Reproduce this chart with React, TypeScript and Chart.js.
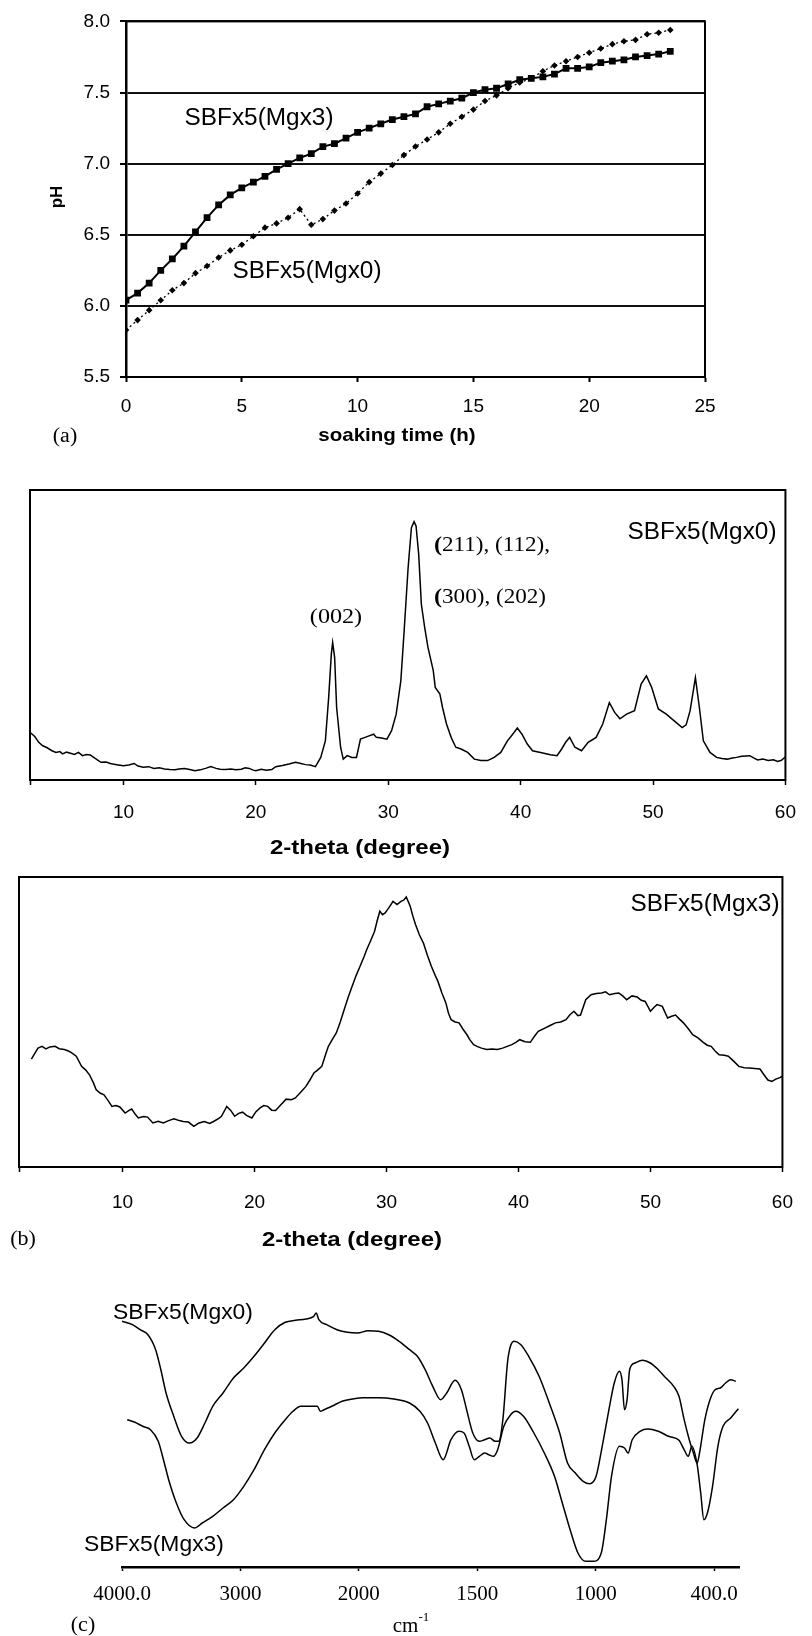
import React, { useEffect, useRef } from 'react';
import { Chart, registerables } from 'chart.js';

Chart.register(...registerables);

// ---------- (a) pH vs soaking time ----------
const soakHours = [0, 0.5, 1, 1.5, 2, 2.5, 3, 3.5, 4, 4.5, 5, 5.5, 6, 6.5, 7, 7.5, 8, 8.5, 9, 9.5, 10, 10.5, 11, 11.5, 12, 12.5, 13, 13.5, 14, 14.5, 15, 15.5, 16, 16.5, 17, 17.5, 18, 18.5, 19, 19.5, 20, 20.5, 21, 21.5, 22, 22.5, 23, 23.5];
const phMgx3 = [6.04, 6.09, 6.16, 6.25, 6.33, 6.42, 6.52, 6.62, 6.71, 6.78, 6.83, 6.87, 6.91, 6.96, 7.0, 7.04, 7.07, 7.12, 7.14, 7.18, 7.22, 7.25, 7.28, 7.31, 7.33, 7.35, 7.4, 7.42, 7.44, 7.46, 7.5, 7.52, 7.53, 7.56, 7.59, 7.6, 7.61, 7.63, 7.67, 7.67, 7.68, 7.71, 7.72, 7.73, 7.75, 7.76, 7.77, 7.79];
const phMgx0 = [5.83, 5.9, 5.97, 6.04, 6.11, 6.16, 6.23, 6.28, 6.34, 6.39, 6.43, 6.49, 6.55, 6.58, 6.62, 6.68, 6.57, 6.61, 6.67, 6.72, 6.79, 6.87, 6.93, 6.99, 7.06, 7.12, 7.17, 7.22, 7.28, 7.33, 7.38, 7.44, 7.48, 7.53, 7.57, 7.6, 7.65, 7.69, 7.72, 7.75, 7.78, 7.81, 7.84, 7.86, 7.87, 7.91, 7.92, 7.94];

// ---------- (b) XRD patterns ----------
const xrdTicks = [10, 20, 30, 40, 50, 60];
const xrdMgx0Theta = [3.0, 3.3, 3.6, 3.9, 4.2, 4.6, 4.9, 5.2, 5.4, 5.7, 6.0, 6.3, 6.6, 6.9, 7.2, 7.5, 7.7, 8.0, 8.3, 8.7, 9.0, 9.2, 9.6, 10.0, 10.4, 10.8, 11.1, 11.5, 11.9, 12.3, 12.7, 13.1, 13.5, 13.9, 14.2, 14.6, 15.0, 15.4, 15.8, 16.2, 16.6, 17.0, 17.3, 17.7, 18.1, 18.5, 18.9, 19.2, 19.5, 19.8, 20.0, 20.4, 20.8, 21.2, 21.5, 22.0, 22.5, 23.0, 23.4, 23.75, 24.1, 24.5, 24.9, 25.25, 25.5, 25.7, 25.8, 25.95, 26.1, 26.4, 26.6, 26.9, 27.25, 27.6, 27.9, 28.25, 28.6, 28.9, 29.1, 29.5, 29.9, 30.25, 30.6, 30.95, 31.2, 31.5, 31.75, 31.95, 32.1, 32.3, 32.5, 32.75, 33.0, 33.4, 33.55, 33.9, 34.1, 34.4, 34.75, 35.1, 35.5, 36.0, 36.5, 37.0, 37.5, 38.0, 38.5, 39.0, 39.4, 39.75, 40.1, 40.5, 40.9, 41.5, 42.25, 42.75, 43.1, 43.4, 43.7, 44.1, 44.6, 45.1, 45.7, 46.2, 46.7, 47.1, 47.5, 48.0, 48.6, 49.1, 49.5, 49.9, 50.4, 51.0, 51.6, 52.2, 52.5, 52.8, 53.2, 53.5, 53.8, 54.3, 54.8, 55.2, 55.6, 56.0, 56.3, 56.7, 57.3, 57.6, 57.9, 58.3, 58.7, 59.1, 59.4, 59.7, 60.0];
const xrdMgx0Int = [162, 150, 130, 118, 112, 101, 95, 98, 90, 96, 92, 88, 95, 84, 88, 86, 80, 70, 61, 62, 57, 55, 52, 49, 52, 57, 48, 44, 46, 40, 42, 38, 36, 35, 38, 40, 36, 32, 35, 40, 46, 40, 37, 36, 38, 35, 37, 42, 40, 34, 32, 37, 34, 36, 46, 50, 55, 61, 57, 53, 52, 46, 78, 135, 285, 434, 474, 423, 250, 113, 72, 84, 78, 78, 141, 147, 153, 158, 147, 145, 141, 170, 227, 342, 514, 732, 870, 891, 876, 778, 606, 526, 457, 377, 319, 296, 250, 193, 147, 113, 107, 95, 72, 67, 67, 78, 95, 135, 158, 179, 158, 124, 101, 95, 87, 84, 107, 130, 147, 113, 101, 130, 147, 193, 267, 233, 211, 227, 239, 331, 359, 319, 245, 227, 204, 181, 190, 239, 353, 250, 135, 95, 78, 74, 72, 76, 78, 82, 84, 76, 69, 72, 67, 70, 64, 68, 80];
const xrdMgx3Theta = [3.1, 3.4, 3.6, 3.9, 4.2, 4.5, 4.9, 5.2, 5.6, 5.9, 6.1, 6.5, 6.9, 7.2, 7.5, 7.8, 8.0, 8.3, 8.6, 8.9, 9.2, 9.5, 9.8, 10.2, 10.5, 10.7, 11.0, 11.2, 11.6, 11.9, 12.3, 12.7, 13.1, 13.5, 13.9, 14.3, 14.6, 15.0, 15.4, 15.8, 16.2, 16.6, 16.9, 17.3, 17.5, 17.9, 18.2, 18.5, 18.8, 19.1, 19.4, 19.8, 20.1, 20.4, 20.7, 21.0, 21.3, 21.6, 22.0, 22.4, 22.8, 23.1, 23.5, 23.9, 24.2, 24.5, 24.8, 25.1, 25.4, 25.6, 25.9, 26.2, 26.5, 26.8, 27.1, 27.4, 27.7, 28.0, 28.3, 28.5, 28.8, 29.1, 29.3, 29.5, 29.7, 29.9, 30.2, 30.5, 30.8, 31.1, 31.3, 31.5, 31.8, 32.0, 32.2, 32.5, 32.8, 33.1, 33.4, 33.7, 33.9, 34.2, 34.5, 34.7, 34.9, 35.2, 35.5, 35.8, 36.1, 36.3, 36.6, 36.9, 37.2, 37.6, 38.0, 38.4, 38.8, 39.1, 39.5, 39.8, 40.1, 40.5, 40.9, 41.2, 41.5, 42.0, 42.4, 42.8, 43.2, 43.6, 43.9, 44.2, 44.5, 44.7, 45.1, 45.5, 45.9, 46.3, 46.6, 46.9, 47.3, 47.6, 47.9, 48.2, 48.6, 49.0, 49.3, 49.6, 50.0, 50.3, 50.5, 50.9, 51.3, 51.6, 51.9, 52.2, 52.5, 52.9, 53.2, 53.6, 54.0, 54.3, 54.6, 54.9, 55.2, 55.6, 55.9, 56.3, 56.7, 57.1, 57.5, 57.9, 58.3, 58.6, 58.9, 59.2, 59.5, 59.8, 60.0];
const xrdMgx3Int = [372, 395, 410, 416, 407, 414, 416, 408, 405, 400, 395, 382, 347, 335, 318, 290, 267, 255, 249, 230, 209, 212, 207, 186, 195, 200, 180, 169, 174, 172, 152, 158, 152, 160, 166, 160, 157, 155, 140, 152, 157, 150, 157, 168, 175, 209, 195, 175, 185, 189, 178, 169, 190, 203, 212, 209, 196, 195, 215, 234, 232, 238, 258, 278, 300, 324, 335, 347, 390, 416, 440, 462, 500, 543, 585, 623, 660, 692, 725, 749, 780, 813, 850, 882, 870, 876, 895, 916, 905, 916, 920, 931, 899, 865, 836, 800, 772, 730, 692, 660, 640, 600, 566, 530, 508, 500, 497, 475, 456, 440, 422, 415, 410, 405, 407, 405, 410, 415, 422, 430, 439, 432, 430, 450, 468, 479, 488, 497, 500, 508, 525, 537, 522, 524, 577, 594, 598, 600, 604, 594, 598, 600, 590, 577, 590, 586, 575, 571, 537, 552, 560, 554, 514, 520, 524, 510, 497, 475, 456, 445, 430, 420, 416, 400, 387, 385, 382, 365, 347, 342, 341, 340, 338, 318, 300, 295, 303, 308, 313];

// ---------- (c) FTIR spectra ----------
const ftirTickLabels = ['4000.0', '3000', '2000', '1500', '1000', '400.0'];
const ftirMgx0Wn = [4000, 3912, 3847, 3781, 3716, 3672, 3628, 3563, 3497, 3431, 3366, 3300, 3234, 3147, 3059, 2972, 2885, 2797, 2710, 2622, 2535, 2447, 2381, 2360, 2338, 2272, 2185, 2097, 2010, 1961, 1917, 1874, 1830, 1786, 1753, 1720, 1688, 1655, 1629, 1594, 1567, 1545, 1519, 1491, 1469, 1447, 1425, 1410, 1392, 1371, 1344, 1316, 1283, 1239, 1196, 1152, 1119, 1086, 1053, 1025, 998, 967, 933, 906, 880, 867, 854, 841, 828, 801, 762, 723, 683, 644, 605, 578, 552, 526, 505, 486, 474, 447, 421, 395, 369, 342, 316, 290];
const ftirMgx0T = [245.7, 242.3, 237.3, 232.3, 217.3, 197.3, 174, 150.7, 130.7, 124, 129, 144, 160.7, 174, 189, 199, 210.7, 224, 237.3, 244.7, 246.7, 248, 250.7, 254, 247.3, 242.3, 237.3, 234.7, 234, 236.3, 235.7, 232.3, 225.7, 217.3, 210.7, 197.3, 180.7, 167.3, 174, 186.7, 177.3, 157.3, 134, 125.7, 127.3, 129, 125.7, 125.7, 147.3, 207.3, 225.7, 222.3, 210.7, 190.7, 164, 134, 104, 94, 85.7, 83.3, 90.7, 120.7, 157.3, 184, 195.7, 187.3, 157.3, 167.3, 197.3, 204, 206.7, 204, 197.3, 189, 180.7, 170.7, 147.3, 127.3, 114, 104, 114, 147.3, 167.3, 177.3, 179, 184, 187.3, 185.7];
const ftirMgx3Wn = [3956, 3891, 3825, 3759, 3694, 3650, 3606, 3541, 3475, 3388, 3322, 3234, 3147, 3059, 2972, 2885, 2797, 2710, 2622, 2556, 2491, 2403, 2351, 2325, 2294, 2228, 2141, 2053, 1983, 1917, 1852, 1786, 1742, 1710, 1677, 1644, 1611, 1578, 1556, 1534, 1513, 1491, 1469, 1451, 1432, 1414, 1388, 1359, 1338, 1305, 1261, 1217, 1174, 1141, 1108, 1075, 1042, 1010, 972, 946, 920, 880, 854, 836, 815, 775, 736, 683, 631, 578, 552, 531, 513, 486, 468, 452, 434, 408, 381, 355, 316, 277];
const ftirMgx3T = [147.3, 144.7, 140.7, 137.3, 125.7, 107.3, 87.3, 64, 47.3, 39, 44, 50.7, 59, 67.3, 80.7, 97.3, 117.3, 134, 147.3, 155.7, 160.7, 160.7, 160.7, 155.7, 157.3, 160.7, 165.7, 168, 169.3, 169.3, 168, 164, 155.7, 144, 124, 107.3, 127.3, 135.7, 134, 120.7, 107.3, 110.7, 114, 112.3, 110.7, 117.3, 140.7, 152.3, 155.7, 150.7, 134, 114, 90.7, 64, 37.3, 14, 5.7, 5.7, 14, 47.3, 90.7, 120.7, 119, 114, 127.3, 135.7, 138, 135.7, 130.7, 126.7, 117.3, 110.7, 120.7, 102.3, 74, 47.3, 54, 80.7, 120.7, 140.7, 149, 158.3];

// piecewise wavenumber axis of the spectrometer plot (tick index space)
const wnToPos = (wn: number) =>
  wn >= 2000 ? (4000 - wn) / 1000 : wn >= 1000 ? 2 + (2000 - wn) / 500 : 4 + (1000 - wn) / 600;

const SANS = "'Liberation Sans', Arial, sans-serif";
const SERIF = "'Liberation Serif', 'Times New Roman', serif";

type Seg = { t: string; f: string; dy?: number };
type TextItem = { segs: Seg[]; x: number; y: number; align?: 'left' | 'center' | 'right'; sx?: number; rot?: number };

function textPlugin(items: TextItem[]) {
  return {
    id: 'texts',
    afterDraw(chart: any) {
      const ctx: CanvasRenderingContext2D = chart.ctx;
      items.forEach((it) => {
        ctx.save();
        ctx.translate(it.x, it.y);
        if (it.rot) ctx.rotate(it.rot);
        ctx.scale(it.sx ?? 1, 1);
        ctx.fillStyle = '#000';
        ctx.textBaseline = 'middle';
        ctx.textAlign = 'left';
        let w = 0;
        it.segs.forEach((s) => {
          ctx.font = s.f;
          w += ctx.measureText(s.t).width;
        });
        let x0 = it.align === 'left' ? 0 : it.align === 'right' ? -w : -w / 2;
        it.segs.forEach((s) => {
          ctx.font = s.f;
          ctx.fillText(s.t, x0, s.dy ?? 0);
          x0 += ctx.measureText(s.t).width;
        });
        ctx.restore();
      });
    },
  };
}

function framePlugin(width: number) {
  return {
    id: 'frame',
    afterDatasetsDraw(chart: any) {
      const { left, top, right, bottom } = chart.chartArea;
      const ctx: CanvasRenderingContext2D = chart.ctx;
      ctx.save();
      ctx.strokeStyle = '#000';
      ctx.lineWidth = width;
      ctx.strokeRect(left, top, right - left, bottom - top);
      ctx.restore();
    },
  };
}

const pairs = (xs: number[], ys: number[], fx: (v: number) => number = (v) => v) =>
  xs.map((x, i) => ({ x: fx(x), y: ys[i] }));

const base = { animation: false as const, responsive: false, devicePixelRatio: 1, events: [] as any[] };

function buildA(): any {
  return {
    type: 'line',
    data: {
      datasets: [
        {
          label: 'SBFx5(Mgx3)',
          data: pairs(soakHours, phMgx3),
          borderColor: '#000',
          borderWidth: 2,
          pointStyle: 'rect',
          pointRadius: 4.8,
          pointBackgroundColor: '#000',
          pointBorderWidth: 0,
          tension: 0,
        },
        {
          label: 'SBFx5(Mgx0)',
          data: pairs(soakHours, phMgx0),
          borderColor: '#000',
          borderWidth: 1.3,
          borderDash: [2, 3],
          pointStyle: 'rectRot',
          pointRadius: 3.3,
          pointBackgroundColor: '#000',
          pointBorderWidth: 0,
          tension: 0,
        },
      ],
    },
    options: {
      ...base,
      layout: { padding: { top: 19, right: 107, left: 0, bottom: 0 } },
      plugins: { legend: { display: false }, tooltip: { enabled: false } },
      scales: {
        x: {
          type: 'linear',
          min: 0,
          max: 25,
          ticks: { stepSize: 5, color: '#000', padding: 13, font: { family: SANS, size: 19 }, maxRotation: 0 },
          grid: { drawOnChartArea: false, tickLength: 5, tickColor: '#000', tickWidth: 2 },
          border: { color: '#000', width: 2 },
          afterFit: (s: any) => { s.height = 83; },
        },
        y: {
          type: 'linear',
          min: 5.5,
          max: 8,
          ticks: { stepSize: 0.5, color: '#000', padding: 10, font: { family: SANS, size: 19 }, callback: (v: any) => Number(v).toFixed(1) },
          grid: { color: '#111', lineWidth: 2, tickLength: 6, tickColor: '#000', tickWidth: 2 },
          border: { color: '#000', width: 2.5 },
          afterFit: (s: any) => { s.width = 126; },
        },
      },
    },
    plugins: [
      framePlugin(2),
      textPlugin([
        { segs: [{ t: 'pH', f: `bold 17px ${SANS}` }], x: 57, y: 197, rot: -Math.PI / 2 },
        { segs: [{ t: 'soaking time (h)', f: `bold 19px ${SANS}` }], x: 397, y: 436, sx: 1.08 },
        { segs: [{ t: '(a)', f: `20px ${SERIF}` }], x: 65, y: 437, sx: 1.1 },
        { segs: [{ t: 'SBFx5(Mgx3)', f: `23px ${SANS}` }], x: 259, y: 119, sx: 1.06 },
        { segs: [{ t: 'SBFx5(Mgx0)', f: `23px ${SANS}` }], x: 307, y: 272, sx: 1.06 },
      ]),
    ],
  };
}

function xrdConfig(theta: number[], inten: number[], minTheta: number, pad: any, axisH: number, tickPad: number, texts: TextItem[]): any {
  return {
    type: 'line',
    data: {
      datasets: [
        { data: pairs(theta, inten), borderColor: '#000', borderWidth: 1.5, pointRadius: 0, tension: 0 },
      ],
    },
    options: {
      ...base,
      layout: { padding: pad },
      plugins: { legend: { display: false }, tooltip: { enabled: false } },
      scales: {
        x: {
          type: 'linear',
          min: minTheta,
          max: 60,
          afterBuildTicks: (s: any) => { s.ticks = [minTheta, ...xrdTicks].map((v) => ({ value: v })); },
          ticks: { color: '#000', padding: tickPad, font: { family: SANS, size: 19 }, maxRotation: 0, autoSkip: false, callback: (v: any) => (Number(v) < 5 ? '' : String(v)) },
          grid: { drawOnChartArea: false, tickLength: 5, tickColor: '#000', tickWidth: 1.5 },
          border: { color: '#000', width: 2 },
          afterFit: (s: any) => { s.height = axisH; },
        },
        y: { type: 'linear', display: false, min: 0, max: 1000 },
      },
    },
    plugins: [framePlugin(2), textPlugin(texts)],
  };
}

function buildB1(): any {
  return xrdConfig(xrdMgx0Theta, xrdMgx0Int, 2.94, { top: 30, left: 30, right: 13, bottom: 0 }, 90, 16, [
    { segs: [{ t: 'SBFx5(Mgx0)', f: `23px ${SANS}` }], x: 702, y: 73, sx: 1.06 },
    { segs: [{ t: '2-theta (degree)', f: `bold 20px ${SANS}` }], x: 360, y: 388, sx: 1.2 },
    { segs: [{ t: '(', f: `bold 22px ${SERIF}` }, { t: '211), (112),', f: `21px ${SERIF}` }], x: 434, y: 85, align: 'left', sx: 1.1 },
    { segs: [{ t: '(', f: `bold 22px ${SERIF}` }, { t: '300), (202)', f: `21px ${SERIF}` }], x: 434, y: 137, align: 'left', sx: 1.1 },
    { segs: [{ t: '(002)', f: `21px ${SERIF}` }], x: 336, y: 157, sx: 1.15 },
  ]);
}

function buildB2(): any {
  return xrdConfig(xrdMgx3Theta, xrdMgx3Int, 2.16, { top: 7, left: 19, right: 12, bottom: 0 }, 103, 19, [
    { segs: [{ t: 'SBFx5(Mgx3)', f: `23px ${SANS}` }], x: 705, y: 35, sx: 1.06 },
    { segs: [{ t: '2-theta (degree)', f: `bold 20px ${SANS}` }], x: 352, y: 370, sx: 1.2 },
    { segs: [{ t: '(b)', f: `20px ${SERIF}` }], x: 23, y: 370, sx: 1.1 },
  ]);
}

function buildC(): any {
  return {
    type: 'line',
    data: {
      datasets: [
        { label: 'SBFx5(Mgx0)', data: pairs(ftirMgx0Wn, ftirMgx0T, wnToPos), borderColor: '#000', borderWidth: 1.5, pointRadius: 0, cubicInterpolationMode: 'monotone' },
        { label: 'SBFx5(Mgx3)', data: pairs(ftirMgx3Wn, ftirMgx3T, wnToPos), borderColor: '#000', borderWidth: 1.5, pointRadius: 0, cubicInterpolationMode: 'monotone' },
      ],
    },
    options: {
      ...base,
      layout: { padding: { top: 17, left: 122, right: 73, bottom: 0 } },
      plugins: { legend: { display: false }, tooltip: { enabled: false } },
      scales: {
        x: {
          type: 'linear',
          min: 0,
          max: 5.21,
          afterBuildTicks: (s: any) => { s.ticks = ftirTickLabels.map((_, i) => ({ value: i })); },
          ticks: { color: '#000', padding: 11, font: { family: SERIF, size: 21 }, maxRotation: 0, autoSkip: false, callback: (_v: any, i: number) => ftirTickLabels[i] },
          grid: { drawOnChartArea: false, tickLength: 4, tickColor: '#000', tickWidth: 1.5 },
          border: { color: '#000', width: 2.5 },
          afterFit: (s: any) => { s.height = 69; },
        },
        y: { type: 'linear', display: false, min: 0, max: 280 },
      },
    },
    plugins: [
      textPlugin([
        { segs: [{ t: 'SBFx5(Mgx0)', f: `22px ${SANS}` }], x: 183, y: 43, sx: 1.04 },
        { segs: [{ t: 'SBFx5(Mgx3)', f: `22px ${SANS}` }], x: 154, y: 275, sx: 1.04 },
        { segs: [{ t: 'cm', f: `21px ${SERIF}` }, { t: '-1', f: `13px ${SERIF}`, dy: -8 }], x: 411, y: 356 },
        { segs: [{ t: '(c)', f: `20px ${SERIF}` }], x: 83, y: 356, sx: 1.1 },
      ]),
    ],
  };
}

function ChartCanvas({ top, height, build }: { top: number; height: number; build: () => any }) {
  const ref = useRef<HTMLCanvasElement>(null);
  useEffect(() => {
    if (!ref.current) return;
    const chart = new Chart(ref.current, build());
    return () => chart.destroy();
  }, []);
  return (
    <canvas
      ref={ref}
      width={812}
      height={height}
      style={{ position: 'absolute', left: 0, top, width: 812, height, display: 'block' }}
    />
  );
}

export default function App() {
  return (
    <div style={{ position: 'absolute', left: 0, top: 0, width: 812, height: 1636, background: '#fff' }}>
      <ChartCanvas top={0} height={460} build={buildA} />
      <ChartCanvas top={460} height={410} build={buildB1} />
      <ChartCanvas top={870} height={400} build={buildB2} />
      <ChartCanvas top={1270} height={366} build={buildC} />
    </div>
  );
}
